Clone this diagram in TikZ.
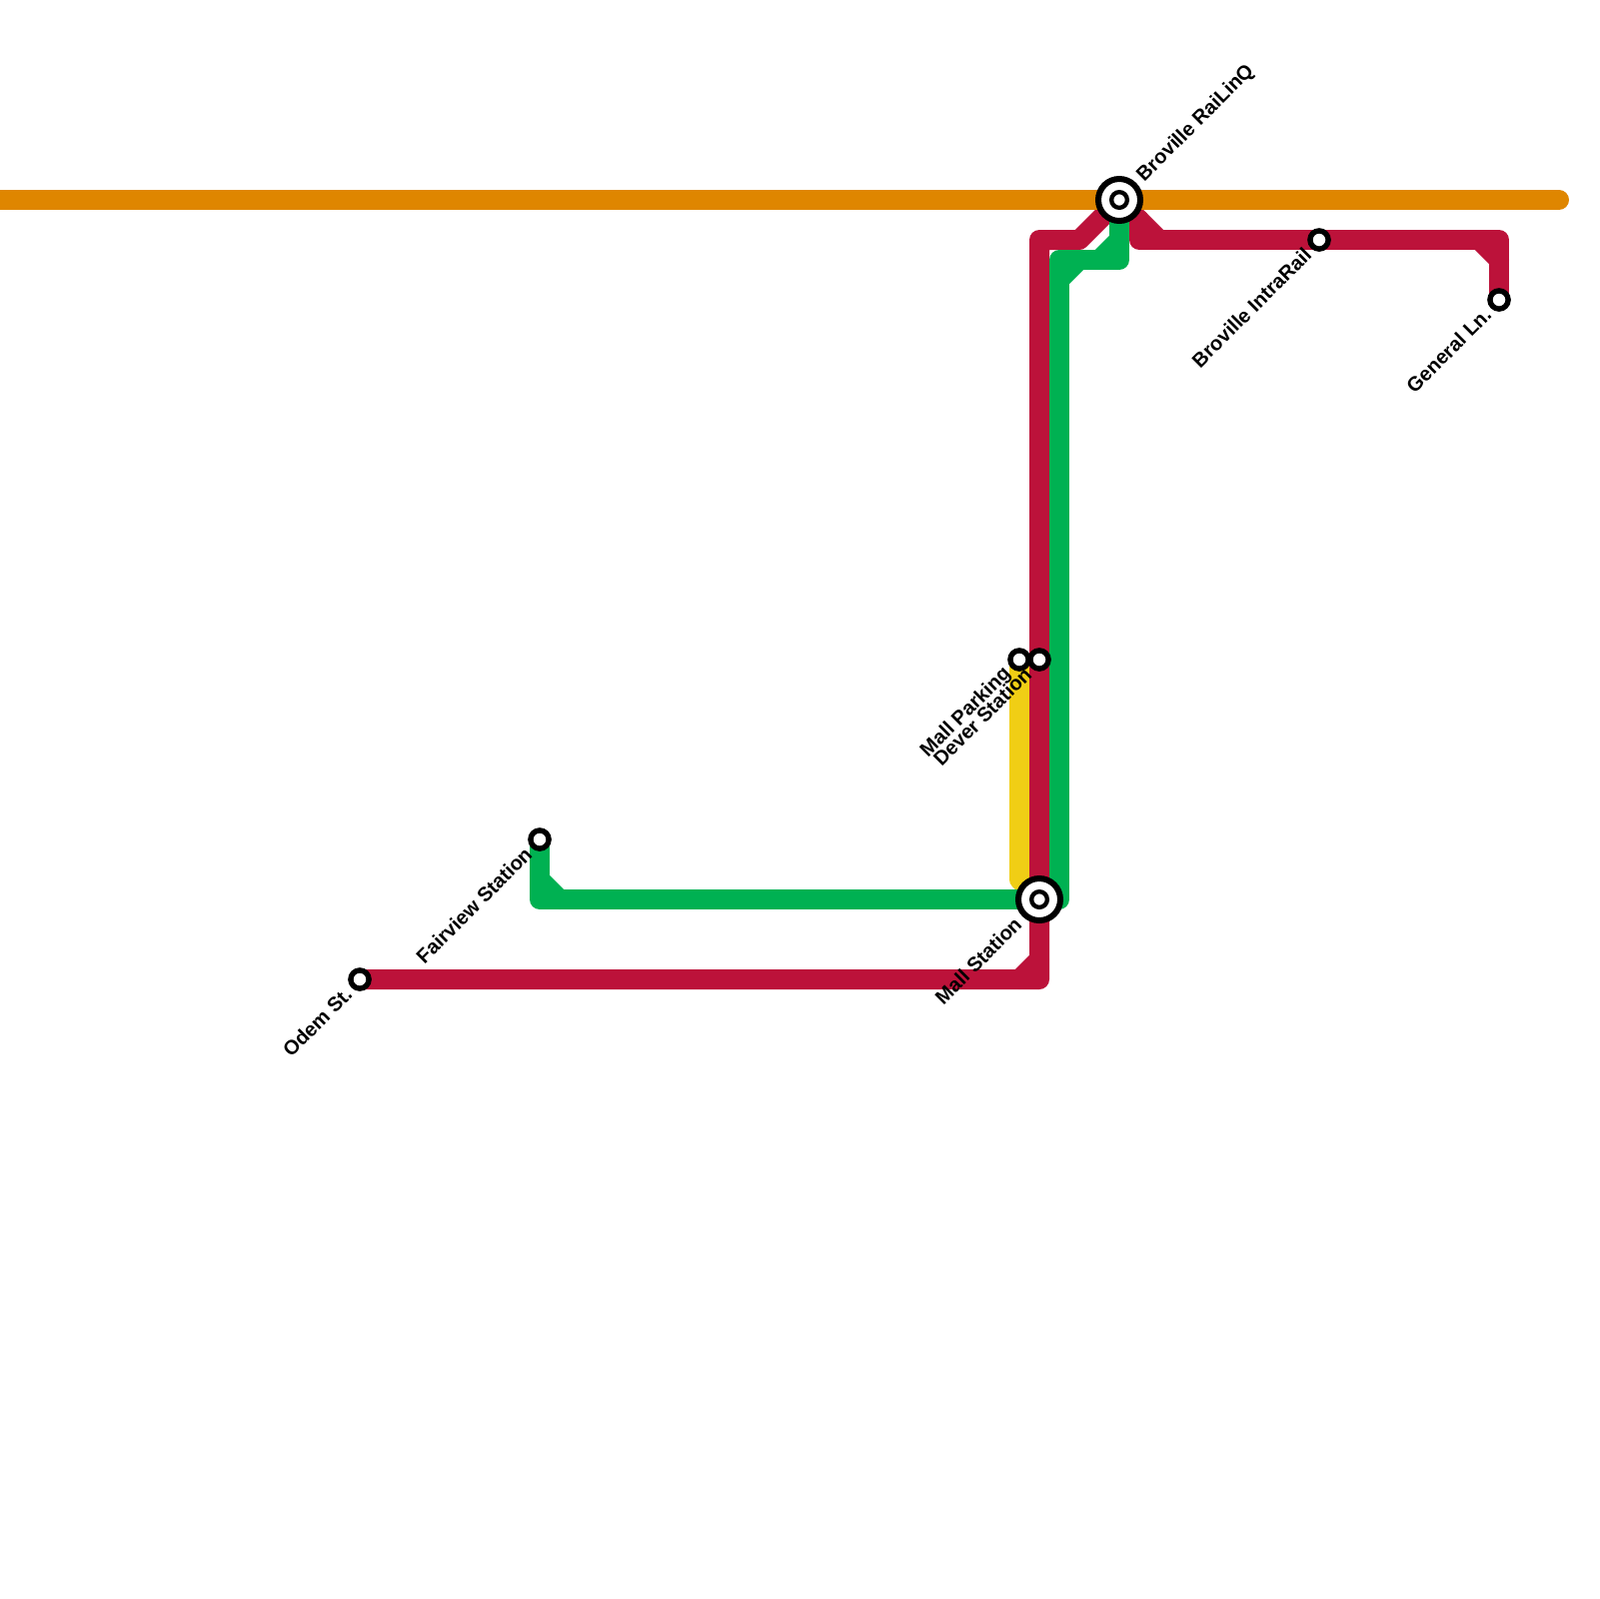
\documentclass[tikz,border=0pt]{standalone}
\usepackage{fontspec}
\setmainfont{Liberation Sans}
\usetikzlibrary{calc,backgrounds}
\definecolor{metroorange}{RGB}{223,134,0}
\definecolor{metrored}{RGB}{188,18,58}
\definecolor{metrogreen}{RGB}{0,177,82}
\definecolor{metroyellow}{RGB}{240,206,21}

\begin{document}
\begin{tikzpicture}[
    x=0.1mm, y=-0.1mm,
    metroline/.style={line width=2mm, line cap=round, line join=round},
    stop/.style={circle, draw=black, fill=white, line width=0.54mm, minimum size=1.82mm, inner sep=0pt},
    hub/.style={circle, draw=black, fill=white, line width=0.6mm, minimum size=4.2mm, inner sep=0pt},
    hubcore/.style={circle, draw=black, fill=white, line width=0.43mm, minimum size=1.57mm, inner sep=0pt},
    stoptext/.style={font=\fontsize{5.7}{6}\selectfont\bfseries, rotate=45, inner sep=0pt},
    lefttext/.style={stoptext, anchor=east},
    righttext/.style={stoptext, anchor=west},
]
    \useasboundingbox (0,0) rectangle (1600,1600);
    % stations
    \node[hub] (broville) at (1120,200) {};
    \node[hubcore] (broville-c) at (broville) {};
    \node[hub] (mall) at (1040,900) {};
    \node[hubcore] (mall-c) at (mall) {};
    \node[stop] (intrarail) at (1320,240) {};
    \node[stop] (general) at (1500,300) {};
    \node[stop] (parking) at (1020,660) {};
    \node[stop] (dever) at (1040,660) {};
    \node[stop] (fairview) at (540,840) {};
    \node[stop] (odem) at (360,980) {};
    % labels
    \node[righttext] (broville-t) at ($(broville)+(21,-21)$) {Broville RaiLinQ};
    \node[lefttext] (mall-t) at ($(mall)+(-21,21)$) {Mall Station};
    \node[lefttext] (intrarail-t) at ($(intrarail)+(-11,11)$) {Broville IntraRail};
    \node[lefttext] (general-t) at ($(general)+(-11,11)$) {General Ln.};
    \node[lefttext] (parking-t) at ($(parking)+(-11,11)$) {Mall Parking};
    \node[lefttext] (dever-t) at ($(dever)+(-11,11)$) {Dever Station};
    \node[lefttext] (fairview-t) at ($(fairview)+(-11,11)$) {Fairview Station};
    \node[lefttext] (odem-t) at ($(odem)+(-11,11)$) {Odem St.};
    % bends
    \coordinate (o-start) at (-20,200);
    \coordinate (o-end) at (1560,200);
    \coordinate (y-a) at (1020,880);
    \coordinate (r-a) at (1040,980);
    \coordinate (r-b) at (1040,240);
    \coordinate (r-c) at (1080,240);
    \coordinate (r-d) at (1160,240);
    \coordinate (r-e) at (1140,220);
    \coordinate (r-f) at (1140,240);
    \coordinate (r-g) at (1500,240);
    \coordinate (r-h) at (1480,240);
    \coordinate (r-i) at (1500,260);
    \coordinate (r-j) at (1020,980);
    \coordinate (r-k) at (1040,960);
    \coordinate (g-a) at (540,900);
    \coordinate (g-b) at (1060,900);
    \coordinate (g-c) at (1060,260);
    \coordinate (g-d) at (1120,260);
    \coordinate (g-e) at (540,880);
    \coordinate (g-f) at (560,900);
    \coordinate (g-g) at (1060,280);
    \coordinate (g-h) at (1080,260);
    \coordinate (g-i) at (1100,260);
    \coordinate (g-j) at (1120,240);
    \begin{scope}[on background layer]
        \draw[metroline, metroyellow] (parking.center) -- (y-a) -- (mall.center);
        \draw[metroline, metrored] (odem.center) -- (r-a) -- (r-b) -- (r-c) -- (broville.center) -- (r-d);
        \draw[metroline, metrored] (r-e) -- (r-f) -- (r-g) -- (general.center);
        \draw[metroline, metrored] (r-h) -- (r-i);
        \draw[metroline, metrored] (r-j) -- (r-k);
        \draw[metroline, metrogreen] (fairview.center) -- (g-a) -- (g-b) -- (g-c) -- (g-d) -- (broville.center);
        \draw[metroline, metrogreen] (g-e) -- (g-f);
        \draw[metroline, metrogreen] (g-g) -- (g-h);
        \draw[metroline, metrogreen] (g-i) -- (g-j);
        \draw[metroline, metroorange] (o-start) -- (o-end);
    \end{scope}
\end{tikzpicture}
\end{document}
